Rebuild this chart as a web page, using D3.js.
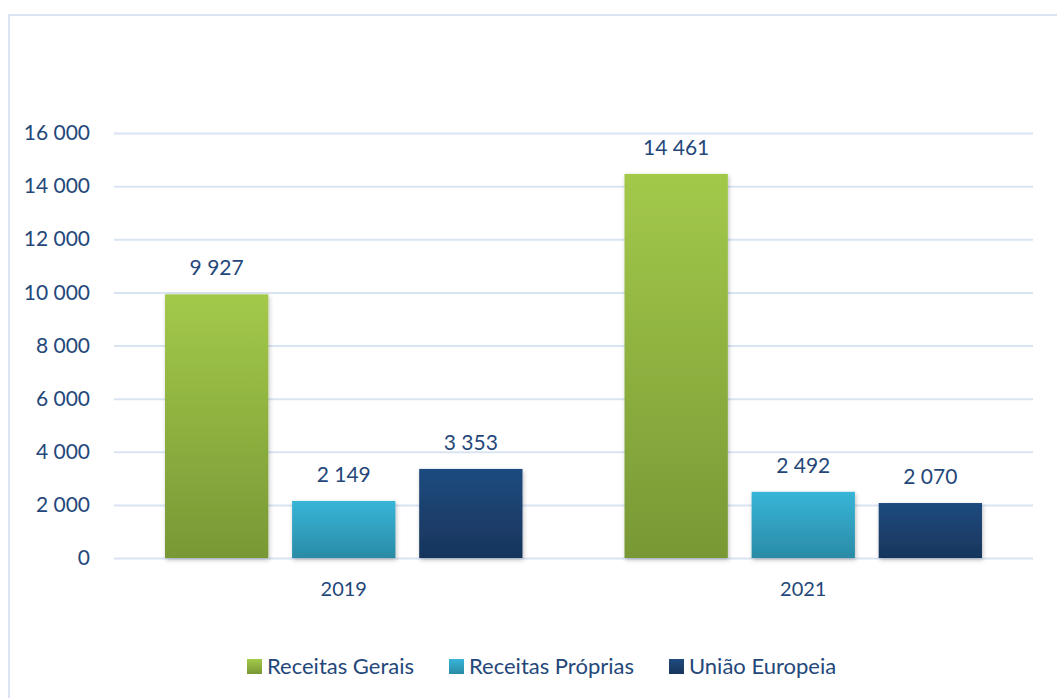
<!DOCTYPE html>
<html>
<head>
<meta charset="utf-8">
<script src="https://cdn.jsdelivr.net/npm/d3@7"></script>
<style>
  body { margin: 0; background: #fff; }
  svg text { font-family: Lato, "Open Sans", sans-serif; fill: #24477a; }
</style>
</head>
<body>
<div class="container"></div>
<script>
const width = 1057;
const height = 698;

// data
const years = ['2019', '2021'];
const series = ['Receitas Gerais', 'Receitas Próprias', 'União Europeia'];
const receitasGerais = [9927, 14461];
const receitasProprias = [2149, 2492];
const uniaoEuropeia = [3353, 2070];
const yTicks = [0, 2000, 4000, 6000, 8000, 10000, 12000, 14000, 16000];

const values = [receitasGerais, receitasProprias, uniaoEuropeia];
const gradStops = [
  ['#a3c94a', '#789835'],
  ['#37b5d8', '#2a8ba5'],
  ['#1f4b7f', '#18355c']
];

const fmt = d => d3.format(',')(d).replace(/,/g, ' ');

const plot = { left: 114, right: 1033, top: 133, bottom: 558 };

const svg = d3.select('.container')
  .append('svg')
  .attr('width', width)
  .attr('height', height);

const defs = svg.append('defs');
gradStops.forEach((c, i) => {
  const g = defs.append('linearGradient')
    .attr('id', 'grad' + i)
    .attr('x1', 0).attr('y1', 0).attr('x2', 0).attr('y2', 1);
  g.append('stop').attr('offset', '0%').attr('stop-color', c[0]);
  g.append('stop').attr('offset', '100%').attr('stop-color', c[1]);
});
const shadow = defs.append('filter').attr('id', 'shadow')
  .attr('x', '-10%').attr('y', '-10%').attr('width', '130%').attr('height', '130%');
shadow.append('feDropShadow')
  .attr('dx', 1).attr('dy', 2).attr('stdDeviation', 2)
  .attr('flood-color', '#000').attr('flood-opacity', 0.25);

// outer frame
svg.append('rect')
  .attr('x', 9).attr('y', 15)
  .attr('width', width + 20).attr('height', height + 20)
  .attr('fill', 'none')
  .attr('stroke', '#dae4f3')
  .attr('stroke-width', 2);

const y = d3.scaleLinear()
  .domain([0, 16000])
  .range([plot.bottom, plot.top]);

const x0 = d3.scaleBand()
  .domain(years)
  .range([plot.left, plot.right]);

const x1 = d3.scaleBand()
  .domain(series)
  .range([51, x0.bandwidth() - 51])
  .paddingInner(0.187);

// gridlines + y labels
const yAxis = svg.append('g')
  .attr('transform', `translate(${plot.left},0)`)
  .call(d3.axisLeft(y).tickValues(yTicks).tickFormat(fmt)
    .tickSize(-(plot.right - plot.left)).tickPadding(24));
yAxis.select('.domain').remove();
yAxis.selectAll('.tick line')
  .attr('stroke', '#d9e4f3')
  .attr('stroke-width', 2);
yAxis.selectAll('.tick text')
  .attr('font-size', 21)
  .attr('fill', '#24477a');

// bars
const groups = svg.append('g')
  .selectAll('g')
  .data(years)
  .join('g')
  .attr('transform', d => `translate(${x0(d)},0)`);

groups.selectAll('rect')
  .data((d, i) => series.map((s, k) => ({ s, k, v: values[k][i] })))
  .join('rect')
  .attr('x', d => x1(d.s))
  .attr('y', d => y(d.v))
  .attr('width', x1.bandwidth())
  .attr('height', d => y(0) - y(d.v))
  .attr('fill', d => `url(#grad${d.k})`)
  .attr('filter', 'url(#shadow)');

groups.selectAll('text.val')
  .data((d, i) => series.map((s, k) => ({ s, k, v: values[k][i] })))
  .join('text')
  .attr('class', 'val')
  .attr('x', d => x1(d.s) + x1.bandwidth() / 2)
  .attr('y', d => y(d.v) - 19)
  .attr('text-anchor', 'middle')
  .attr('font-size', 21)
  .text(d => fmt(d.v));

// category axis labels
svg.append('g')
  .selectAll('text')
  .data(years)
  .join('text')
  .attr('x', d => x0(d) + x0.bandwidth() / 2)
  .attr('y', 596)
  .attr('text-anchor', 'middle')
  .attr('font-size', 20)
  .text(d => d);

// legend
const legend = svg.append('g').attr('transform', 'translate(247,667)');
let lx = 0;
series.forEach((s, k) => {
  const item = legend.append('g').attr('transform', `translate(${lx},0)`);
  item.append('rect')
    .attr('x', 0).attr('y', -8)
    .attr('width', 15).attr('height', 15)
    .attr('fill', `url(#grad${k})`);
  const t = item.append('text')
    .attr('x', 20).attr('y', 7)
    .attr('font-size', 22)
    .text(s);
  lx += 20 + t.node().getComputedTextLength() + 35;
});
</script>
</body>
</html>
